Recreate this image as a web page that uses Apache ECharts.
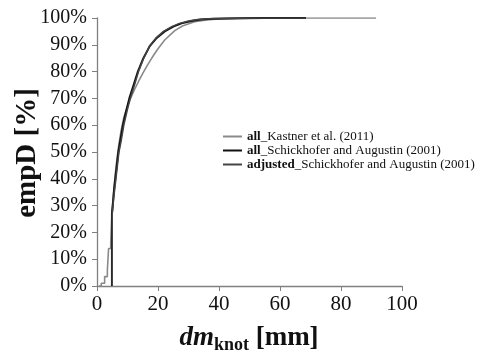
<!DOCTYPE html>
<html>
<head>
<meta charset="utf-8">
<script src="https://cdn.jsdelivr.net/npm/echarts@6/dist/echarts.min.js"></script>
<style>html,body{margin:0;padding:0;background:#fff}#c{width:484px;height:352px}</style>
</head>
<body>
<div id="c"></div>
<script>
// Tick labels
const xTicks = [0, 20, 40, 60, 80, 100];
const yTicks = [0, 10, 20, 30, 40, 50, 60, 70, 80, 90, 100];

// Series names
const seriesNames = [
  'all_Kastner et al. (2011)',
  'all_Schickhofer and Augustin (2001)',
  'adjusted_Schickhofer and Augustin (2001)'
];

// all_Kastner et al. (2011): dm_knot [mm] and empD [%]
const kastnerX = [0.6, 1.4, 1.4, 2.5, 2.5, 3.4, 3.4, 3.8, 3.8, 4.5, 4.5, 4.9, 4.9, 5.2, 5.6, 6.1, 6.6, 7.2, 7.9, 8.8, 10, 11, 12.4, 13.7, 15.1, 16.5, 17.5, 18.5, 20, 22.2, 25.5, 28, 32, 36, 40, 45, 50, 60, 70, 80, 91.5];
const kastnerY = [0, 0, 1, 1, 3.5, 3.5, 6, 6, 14, 14, 16, 16, 27, 31, 37, 43, 48, 53, 58, 63, 67, 70, 73.5, 76.5, 79.5, 82.3, 84.2, 86, 88.5, 91.8, 95.3, 97, 98.6, 99.3, 99.65, 99.85, 99.95, 100, 100, 100, 100];

// all_Schickhofer and Augustin (2001)
const allX = [4.9, 4.9, 5.3, 5.6, 6.0, 6.5, 7.0, 7.6, 8.5, 9.5, 10.6, 12, 13.4, 15.2, 17.3, 19.5, 22.2, 25, 27.7, 31, 34, 38, 42, 48, 55, 62, 68.5];
const allY = [0, 27, 32, 36, 40, 45, 50, 54, 60, 65, 70, 75, 80, 85, 89.5, 92.5, 95, 96.8, 98, 98.9, 99.4, 99.7, 99.85, 99.95, 100, 100, 100];

// adjusted_Schickhofer and Augustin (2001)
const adjX = [5.0, 5.0, 5.4, 5.8, 6.2, 6.7, 7.2, 7.9, 8.8, 9.8, 10.9, 12.3, 13.6, 15.3, 17.2, 19.3, 21.8, 24.5, 27, 30, 33, 37, 41, 47, 54, 61, 68.5];
const adjY = [0, 27, 32, 36, 40, 45, 50, 54, 60, 65, 70, 75, 80, 85, 89.5, 92.5, 95, 96.8, 98, 98.9, 99.4, 99.7, 99.85, 99.95, 100, 100, 100];

const FONT = '"Liberation Serif", "Times New Roman", serif';
const pair = (xs, ys) => xs.map((x, i) => [x, ys[i]]);

const chart = echarts.init(document.getElementById('c'), null, {renderer: 'canvas'});
chart.setOption({
  animation: false,
  backgroundColor: '#fff',
  grid: {left: 97, right: 82, top: 18, bottom: 66, containLabel: false},
  xAxis: {
    type: 'value', min: xTicks[0], max: xTicks[xTicks.length - 1], interval: 20,
    axisLine: {lineStyle: {color: '#808080', width: 1.3}},
    axisTick: {show: true, length: 5, lineStyle: {color: '#808080'}},
    splitLine: {show: false},
    axisLabel: {color: '#111', fontFamily: FONT, fontSize: 21, margin: 8}
  },
  yAxis: {
    type: 'value', min: yTicks[0], max: yTicks[yTicks.length - 1], interval: 10,
    axisLine: {show: true, lineStyle: {color: '#808080', width: 1.3}},
    axisTick: {show: true, length: 5, lineStyle: {color: '#808080'}},
    splitLine: {show: false},
    axisLabel: {color: '#111', fontFamily: FONT, fontSize: 20, margin: 10, formatter: '{value}%'}
  },
  legend: {
    orient: 'vertical', left: 218, top: 125, itemGap: 1, itemWidth: 19, itemHeight: 2,
    icon: 'rect',
    data: seriesNames,
    textStyle: {
      fontFamily: FONT, fontSize: 13, color: '#111',
      rich: {
        b: {fontFamily: FONT, fontSize: 13, fontWeight: 'bold', color: '#111'},
        n: {fontFamily: FONT, fontSize: 13, color: '#111'}
      }
    },
    formatter: function (name) {
      const i = name.indexOf('_');
      return '{b|' + name.slice(0, i) + '}{n|' + name.slice(i) + '}';
    }
  },
  series: [
    {name: seriesNames[0], type: 'line', symbol: 'none', data: pair(kastnerX, kastnerY),
     lineStyle: {color: '#8a8a8a', width: 1.6}, itemStyle: {color: '#8a8a8a'}},
    {name: seriesNames[1], type: 'line', symbol: 'none', data: pair(allX, allY),
     lineStyle: {color: '#111', width: 2}, itemStyle: {color: '#111'}},
    {name: seriesNames[2], type: 'line', symbol: 'none', data: pair(adjX, adjY),
     lineStyle: {color: '#444', width: 1.5}, itemStyle: {color: '#444'}}
  ],
  graphic: [
    {type: 'text', x: 28, y: 153, rotation: Math.PI / 2,
     style: {text: 'empD [%]', fontFamily: FONT, fontSize: 29, fontWeight: 'bold', fill: '#111',
              align: 'center', verticalAlign: 'middle'}},
    {type: 'text', x: 249, y: 338,
     style: {text: '{a|dm}{b|knot}{c| [mm]}', align: 'center', verticalAlign: 'middle', fill: '#111',
             rich: {
               a: {fontFamily: FONT, fontSize: 27, fontWeight: 'bold', fontStyle: 'italic', fill: '#111', lineHeight: 30},
               b: {fontFamily: FONT, fontSize: 18, fontWeight: 'bold', fill: '#111', lineHeight: 30, padding: [14, 0, 0, 0]},
               c: {fontFamily: FONT, fontSize: 27, fontWeight: 'bold', fill: '#111', lineHeight: 30}
             }}}
  ]
});
</script>
</body>
</html>
